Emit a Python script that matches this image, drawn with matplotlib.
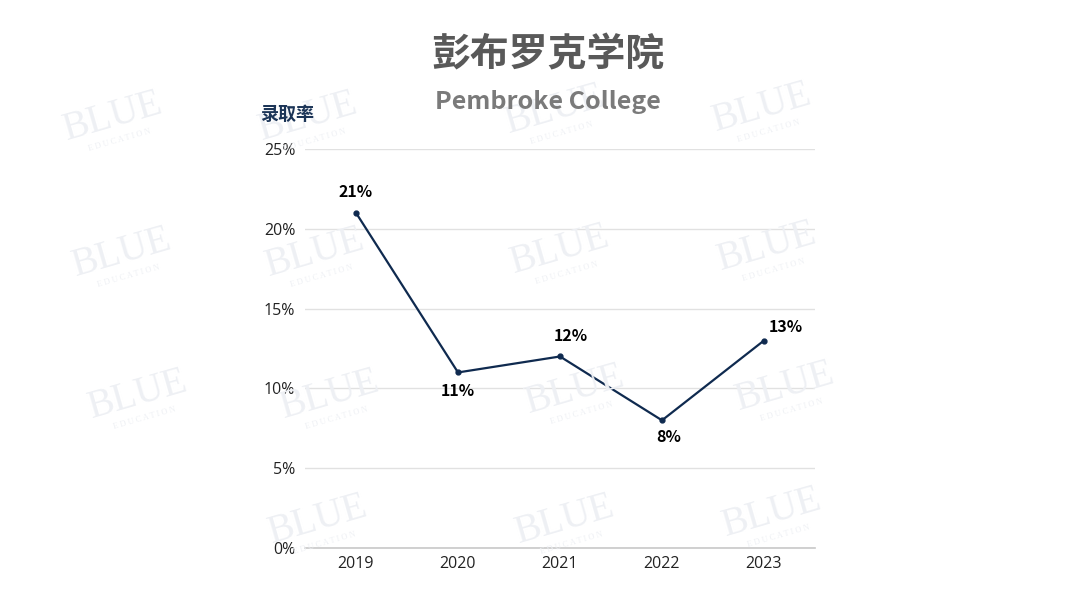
import matplotlib
matplotlib.use("Agg")
import numpy as np
from matplotlib import pyplot as plt

# data
years = ["2019", "2020", "2021", "2022", "2023"]
rates = [21, 11, 12, 8, 13]  # admission rate, %
yticks = [0, 5, 10, 15, 20, 25]

# label offsets in pixels (dx, dy) relative to each point
label_offsets = [(0, 21), (0, -19), (11, 20), (7, -17), (22, 14)]

NAVY = "#0f2a4f"
CJK = ["Noto Sans CJK SC", "DejaVu Sans"]
plt.rcParams["font.family"] = ["Open Sans", "Noto Sans CJK SC", "DejaVu Sans"]

fig = plt.figure(figsize=(10.8, 6.08), dpi=100)
fig.patch.set_facecolor("white")

# faint watermark, drawn behind everything
wm_pos = [(113, 117), (308, 117), (555, 110), (762, 108),
          (122, 253), (315, 253), (560, 250), (767, 247),
          (138, 395), (330, 395), (575, 390), (785, 387),
          (318, 520), (565, 520), (772, 513)]
for px, py in wm_pos:
    fx, fy = px / 1080, 1 - py / 608
    fig.text(fx, fy, "BLUE", family="Liberation Serif", fontsize=28,
             color="#eef0f4", rotation=16, ha="center", va="center",
             rotation_mode="anchor", zorder=0)
    fig.text(fx + 0.006, fy - 0.038, "E D U C A T I O N", family="Liberation Serif",
             fontsize=6, color="#eef0f4", rotation=16, ha="center", va="center",
             rotation_mode="anchor", zorder=0)

ax = fig.add_axes([305 / 1080, 60 / 608, 510 / 1080, 399 / 608])
ax.set_facecolor("none")

x = np.arange(len(years))
ax.plot(x, rates, color=NAVY, linewidth=1.6, marker="o", markersize=3.5, zorder=3)

for xi, v, (dx, dy) in zip(x, rates, label_offsets):
    ax.annotate(f"{v}%", (xi, v), xytext=(dx * 0.72, dy * 0.72),
                textcoords="offset points", ha="center", va="center",
                fontsize=11.5, fontweight="bold", color="black", family=CJK)

ax.set_xlim(-0.5, len(years) - 0.5)
ax.set_ylim(0, 25)
ax.set_xticks(x)
ax.set_xticklabels(years)
ax.set_yticks(yticks)
ax.set_yticklabels([f"{t}%" for t in yticks])
ax.tick_params(axis="both", length=0, labelsize=11.5, colors="#222222")
ax.tick_params(axis="y", pad=7)
ax.tick_params(axis="x", pad=6)

ax.grid(axis="y", color="#e1e1e1", linewidth=1)
ax.set_axisbelow(True)
for s in ["top", "right", "left"]:
    ax.spines[s].set_visible(False)
ax.spines["bottom"].set_color("#c8c8c8")
ax.spines["bottom"].set_linewidth(1.2)

fig.text(287 / 1080, 1 - 114 / 608, "录取率", family=CJK, fontsize=13,
         fontweight="bold", color="#1c3557", ha="center", va="center")

fig.text(548 / 1080, 1 - 55 / 608, "彭布罗克学院", family=CJK, fontsize=28,
         fontweight="bold", color="#595959", ha="center", va="center")
fig.text(548 / 1080, 1 - 102 / 608, "Pembroke College", family=CJK, fontsize=18,
         fontweight="bold", color="#7a7a7a", ha="center", va="center")

fig.savefig("out.png", dpi=100, facecolor="white")
